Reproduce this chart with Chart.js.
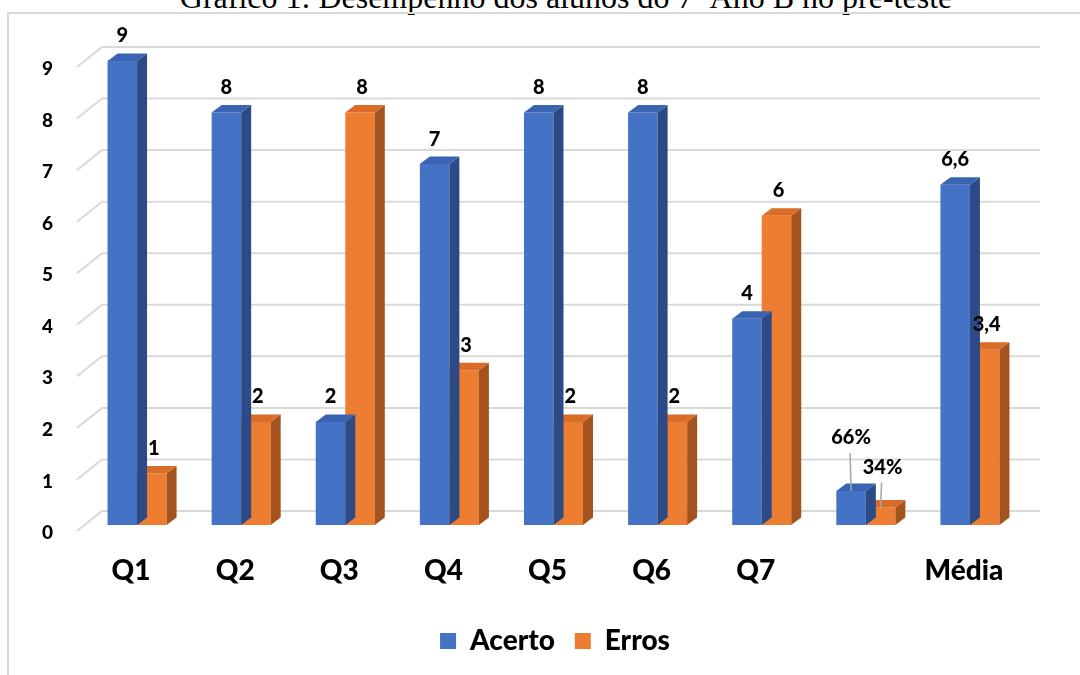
<!DOCTYPE html>
<html>
<head>
<meta charset="utf-8">
<script src="https://cdn.jsdelivr.net/npm/chart.js@4/dist/chart.umd.min.js"></script>
<style>
    html, body { margin: 0; padding: 0; background: #fff; overflow: hidden; }
    .page { position: relative; width: 1080px; height: 675px; overflow: hidden; }
    .frame { position: absolute; left: 7px; top: 12px; width: 1200px; height: 800px; border: 2px solid #d9d9d9; box-sizing: border-box; }
    .caption { position: absolute; left: 0; width: 1132px; top: -21px; text-align: center; font-family: 'Liberation Serif', serif; font-size: 32px; color: #000; white-space: nowrap; }
    canvas { position: absolute; left: 0; top: 0; }
</style>
</head>
<body>
<div class="page">
    <div class="caption">Gráfico 1: Desempenho dos alunos do 7º Ano B no pré-teste</div>
    <div class="frame"></div>
    <canvas id="chart" width="1080" height="675"></canvas>
</div>
<script>
const categories = ['Q1', 'Q2', 'Q3', 'Q4', 'Q5', 'Q6', 'Q7', '', 'Média'];
const acerto = [9, 8, 2, 7, 8, 8, 4, 0.66, 6.6];
const erros = [1, 2, 8, 3, 2, 2, 6, 0.34, 3.4];
const yTicks = [0, 1, 2, 3, 4, 5, 6, 7, 8, 9];

var global = {};
global.chart = {
    font: 'Lato',
    depth: { dx: 10, dy: -7.5 },
    wall: { dx: 25, dy: -14, front: 6 },
    faces: [
        { front: '#4472c4', top: '#3a63b1', side: '#2c4a85' },
        { front: '#ed7d31', top: '#d96c26', side: '#a4531e' }
    ],
    format(v, i) {
        if (categories[i] === '') return Math.round(v * 100) + '%';
        return String(v).replace('.', ',');
    },
    backWall: {
        id: 'backWall',
        beforeDatasetsDraw(chart) {
            const ctx = chart.ctx;
            const area = chart.chartArea;
            const y = chart.scales.y;
            const w = global.chart.wall;
            ctx.save();
            ctx.strokeStyle = '#d9d9d9';
            ctx.lineWidth = 2;
            yTicks.forEach(function (t) {
                const py = y.getPixelForValue(t);
                ctx.beginPath();
                ctx.moveTo(area.left - 8, py + w.front);
                ctx.lineTo(area.left + 17, py + w.dy);
                ctx.lineTo(area.right + 18, py + w.dy);
                ctx.stroke();
            });
            ctx.restore();
        }
    },
    // legend sits centred on the whole frame, not on the plot area
    legendShift: {
        id: 'legendShift',
        afterLayout(chart) {
            chart.legend.left += 39;
            chart.legend.right += 39;
        }
    },
    boxes: {
        id: 'boxes',
        afterDatasetDraw(chart, args) {
            const ctx = chart.ctx;
            const d = global.chart.depth;
            const face = global.chart.faces[args.index];
            const meta = chart.getDatasetMeta(args.index);
            ctx.save();
            meta.data.forEach(function (bar) {
                const p = bar.getProps(['x', 'y', 'base', 'width'], true);
                const l = p.x - p.width / 2, r = p.x + p.width / 2;
                ctx.fillStyle = face.side;
                ctx.beginPath();
                ctx.moveTo(r, p.y);
                ctx.lineTo(r + d.dx, p.y + d.dy);
                ctx.lineTo(r + d.dx, p.base + d.dy);
                ctx.lineTo(r, p.base);
                ctx.closePath();
                ctx.fill();
                ctx.fillStyle = face.top;
                ctx.beginPath();
                ctx.moveTo(l, p.y);
                ctx.lineTo(l + d.dx, p.y + d.dy);
                ctx.lineTo(r + d.dx, p.y + d.dy);
                ctx.lineTo(r, p.y);
                ctx.closePath();
                ctx.fill();
            });
            ctx.restore();
        }
    },
    valueLabels: {
        id: 'valueLabels',
        afterDatasetsDraw(chart) {
            const ctx = chart.ctx;
            ctx.save();
            ctx.font = '900 20px ' + global.chart.font;
            ctx.fillStyle = '#000';
            ctx.textAlign = 'center';
            ctx.textBaseline = 'middle';
            chart.data.datasets.forEach(function (ds, di) {
                chart.getDatasetMeta(di).data.forEach(function (bar, i) {
                    const p = bar.getProps(['x', 'y'], true);
                    const text = global.chart.format(ds.data[i], i);
                    if (categories[i] === '') {
                        const lift = di === 0 ? 53 : 40;
                        const lx = p.x + di * 2;
                        ctx.fillText(text, lx, p.y - lift);
                        ctx.strokeStyle = '#a6a6a6';
                        ctx.lineWidth = 1.5;
                        ctx.beginPath();
                        ctx.moveTo(lx - 1, p.y - lift + 15);
                        ctx.lineTo(p.x, p.y);
                        ctx.stroke();
                    } else {
                        ctx.fillText(text, p.x + di * 2, p.y - 25);
                    }
                });
            });
            ctx.restore();
        }
    },
    render() {
        const font = global.chart.font;
        return new Chart(document.getElementById('chart'), {
            type: 'bar',
            data: {
                labels: categories,
                datasets: [
                    { label: 'Acerto', data: acerto, backgroundColor: '#4472c4' },
                    { label: 'Erros', data: erros, backgroundColor: '#ed7d31' }
                ]
            },
            options: {
                responsive: false,
                animation: false,
                layout: { padding: { top: 61, left: 10, right: 58, bottom: 10 } },
                datasets: { bar: { categoryPercentage: 0.567, barPercentage: 1 } },
                scales: {
                    x: {
                        grid: { display: false },
                        border: { display: false },
                        ticks: { color: '#000', padding: 21, labelOffset: -6, font: { family: font, size: 28, weight: '900' } },
                        afterFit(scale) { scale.height = 82; }
                    },
                    y: {
                        min: 0,
                        max: 9,
                        grid: { display: false },
                        border: { display: false },
                        ticks: { stepSize: 1, color: '#000', padding: 24, labelOffset: 8, font: { family: font, size: 19, weight: '900' } },
                        afterFit(scale) { scale.width = 75; }
                    }
                },
                plugins: {
                    legend: {
                        position: 'bottom',
                        labels: {
                            color: '#000',
                            boxWidth: 16,
                            boxHeight: 16,
                            padding: 20,
                            font: { family: font, size: 28, weight: '900' }
                        }
                    },
                    tooltip: { enabled: false }
                }
            },
            plugins: [global.chart.backWall, global.chart.legendShift, global.chart.boxes, global.chart.valueLabels]
        });
    }
};

global.chart.render();
</script>
</body>
</html>
